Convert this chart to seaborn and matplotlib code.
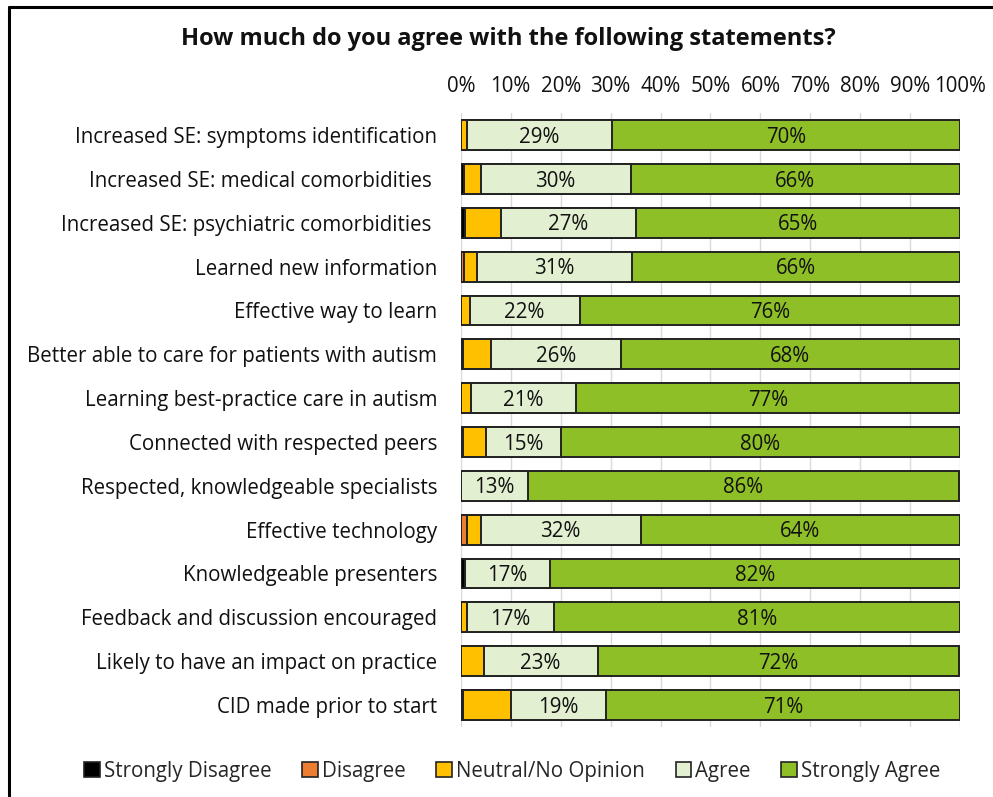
import numpy as np
import pandas as pd
import matplotlib
matplotlib.use("Agg")
import matplotlib.pyplot as plt
import seaborn as sns
from matplotlib.patches import Patch
from matplotlib.lines import Line2D

categories = [
    "Increased SE: symptoms identification",
    "Increased SE: medical comorbidities ",
    "Increased SE: psychiatric comorbidities ",
    "Learned new information",
    "Effective way to learn",
    "Better able to care for patients with autism",
    "Learning best-practice care in autism",
    "Connected with respected peers",
    "Respected, knowledgeable specialists",
    "Effective technology",
    "Knowledgeable presenters",
    "Feedback and discussion encouraged",
    "Likely to have an impact on practice",
    "CID made prior to start",
]
strongly_disagree = [0, 0.6, 0.8, 0, 0, 0.5, 0, 0, 0, 0, 0.8, 0, 0, 0.5]
disagree = [0, 0, 0, 0.6, 0, 0, 0, 0.5, 0, 1.3, 0, 0, 0, 0]
neutral = [1.2, 3.4, 7.2, 2.6, 1.8, 5.5, 2.0, 4.5, 0, 2.7, 0, 1.2, 4.6, 9.5]
agree = [29, 30, 27, 31, 22, 26, 21, 15, 13.4, 32, 17, 17.4, 22.8, 19]
strongly_agree = [69.8, 66, 65, 65.8, 76.2, 68, 77, 80, 86.4, 64, 82.2, 81.4, 72.4, 71]
series_names = ["Strongly Disagree", "Disagree", "Neutral/No Opinion", "Agree", "Strongly Agree"]
colors = ["#000000", "#ED7D31", "#FFC000", "#E2EFD0", "#8FBF26"]
tick_labels = ["0%", "10%", "20%", "30%", "40%", "50%", "60%", "70%", "80%", "90%", "100%"]

sns.set_theme(style="white")
plt.rcParams["font.family"] = ["Open Sans", "DejaVu Sans"]

series = [strongly_disagree, disagree, neutral, agree, strongly_agree]
cum = np.cumsum(np.array(series, dtype=float), axis=0)

df = pd.DataFrame({"category": categories})
for name, c in zip(series_names, cum):
    df[name] = c

FS = 14.8

fig = plt.figure(figsize=(9.93, 7.97), dpi=100)
ax = fig.add_axes([0.464, 0.088, 0.503, 0.770])

# draw cumulative bars from the largest to the smallest (stacked look)
for name, col in reversed(list(zip(series_names, colors))):
    sns.barplot(data=df, x=name, y="category", orient="h", color=col,
                edgecolor="#222222", linewidth=1.4, width=0.68, ax=ax,
                saturation=1, zorder=3)

ax.set_xlim(0, 100)
ax.set_xticks(np.arange(0, 101, 10))
ax.set_xticklabels(tick_labels)
ax.xaxis.tick_top()
ax.tick_params(axis="x", length=0, pad=12, labelsize=FS, colors="#111111")
ax.tick_params(axis="y", length=0, pad=17, labelsize=FS, labelcolor="#111111")
ax.set_xlabel("")
ax.set_ylabel("")
ax.grid(axis="x", color="#D9D9D9", linewidth=1, zorder=0)
ax.set_axisbelow(True)
for s in ax.spines.values():
    s.set_visible(False)

# data labels for Agree and Strongly Agree
starts_agree = cum[2]
for i in range(len(categories)):
    a0 = starts_agree[i]
    ax.text(a0 + agree[i] / 2, i + 0.05, f"{round(agree[i])}%", ha="center", va="center",
            fontsize=FS, color="#111111", zorder=5)
    s0 = cum[3][i]
    ax.text(s0 + strongly_agree[i] / 2, i + 0.05, f"{round(strongly_agree[i])}%", ha="center",
            va="center", fontsize=FS, color="#111111", zorder=5)

fig.text(0.512, 0.951, "How much do you agree with the following statements?",
         ha="center", va="center", fontsize=17, fontweight="bold", color="#111111")

handles = [Patch(facecolor=c, edgecolor="#222222", linewidth=1.2) for c in colors]
fig.legend(handles, series_names, loc="center", bbox_to_anchor=(0.516, 0.032), ncol=5,
           frameon=False, fontsize=FS, handlelength=0.75, handleheight=0.75,
           handletextpad=0.2, columnspacing=1.5)

# figure frame (top and left edges visible)
fig.add_artist(Line2D([0.009, 1.0], [0.991, 0.991], transform=fig.transFigure,
                      color="black", linewidth=2.2))
fig.add_artist(Line2D([0.009, 0.009], [0.0, 0.991], transform=fig.transFigure,
                      color="black", linewidth=2.2))

fig.savefig("out.png", dpi=100)
